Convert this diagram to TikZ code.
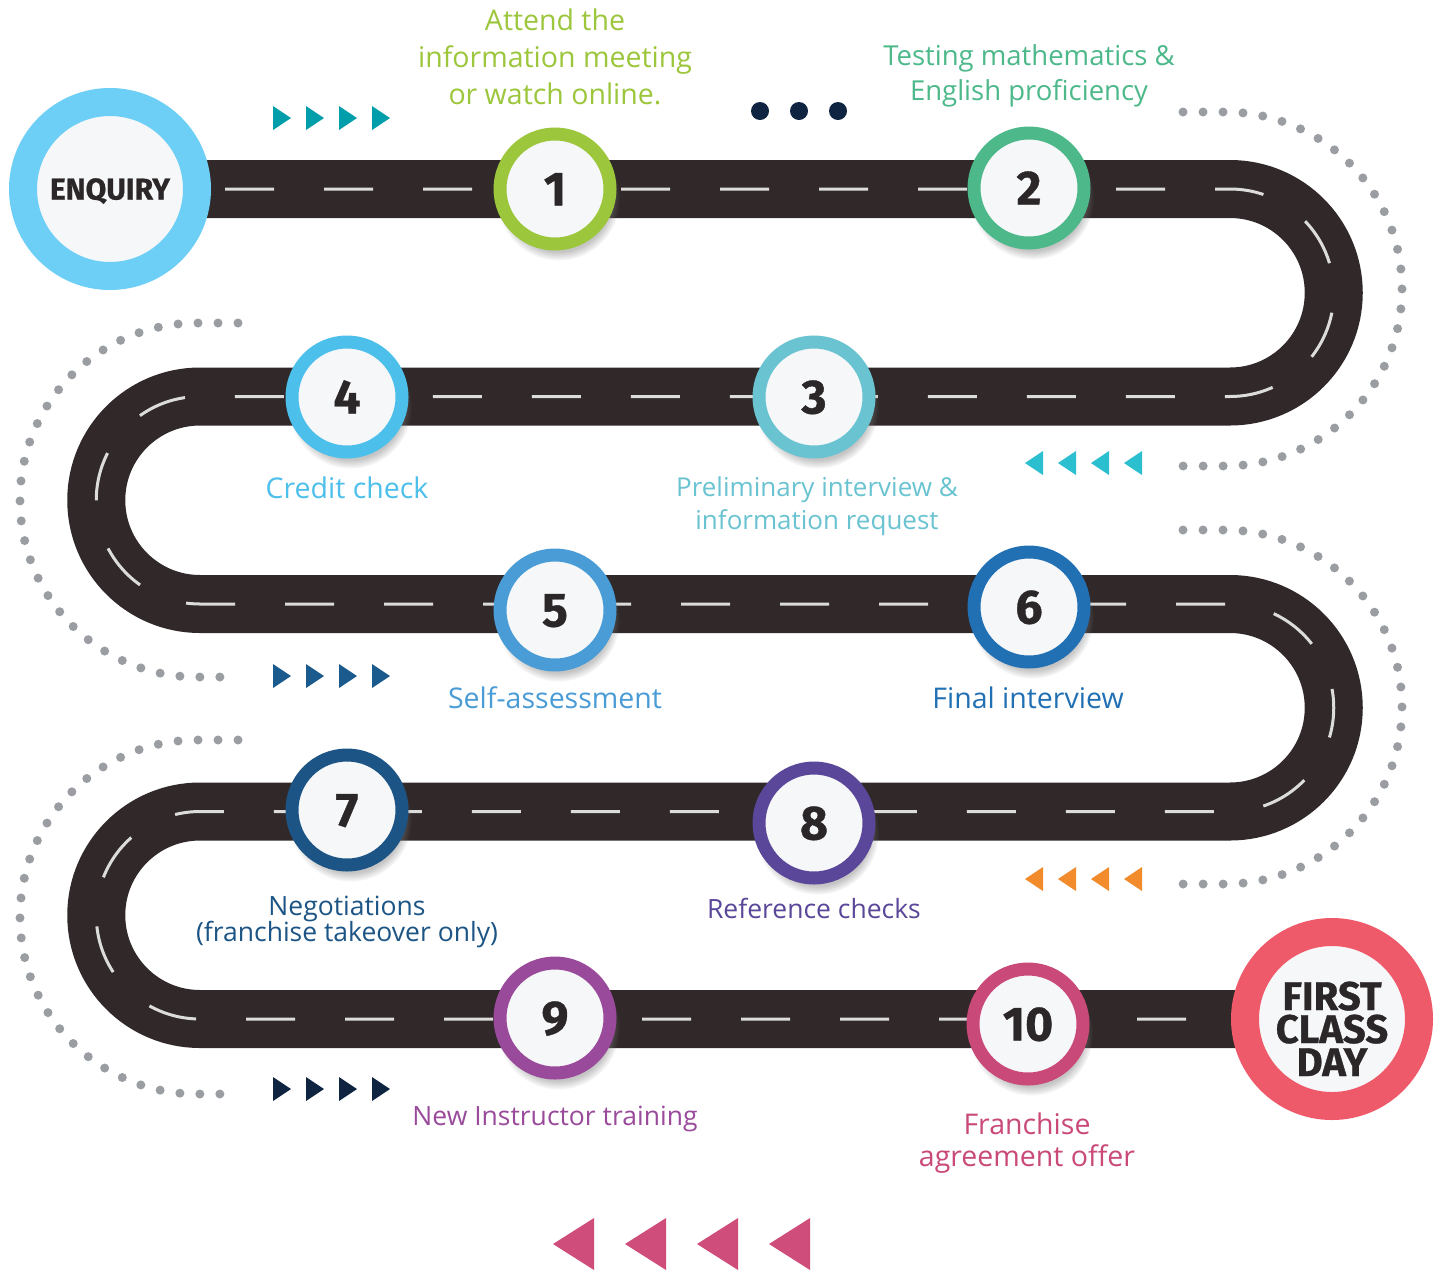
\documentclass[tikz,border=0pt]{standalone}
\usepackage{fontspec}
\setmainfont{Open Sans}
\newfontfamily\numfont[BoldFeatures={FakeBold=0.8}]{Fira Sans}
\usetikzlibrary{shadows}
\pgfdeclarelayer{bg}
\pgfsetlayers{bg,main}
\definecolor{roadc}{HTML}{302829}
\definecolor{dashc}{HTML}{DDDCDC}
\definecolor{dotc}{HTML}{9A9DA2}
\definecolor{innerc}{HTML}{F6F7F9}
\definecolor{numc}{HTML}{2B2627}
\definecolor{cEnq}{HTML}{6DCFF6}
\definecolor{cOne}{HTML}{9CC63B}
\definecolor{cTwo}{HTML}{4DB98A}
\definecolor{cThree}{HTML}{6AC3D1}
\definecolor{cFour}{HTML}{4DBFEB}
\definecolor{cFive}{HTML}{4A9CD6}
\definecolor{cSix}{HTML}{2270B4}
\definecolor{cSeven}{HTML}{1C5585}
\definecolor{cEight}{HTML}{5A4799}
\definecolor{cNine}{HTML}{9A4A9B}
\definecolor{cTen}{HTML}{C94978}
\definecolor{cFCD}{HTML}{EF5A6B}
\definecolor{tOne}{HTML}{009DAA}
\definecolor{tTwo}{HTML}{2CBFD0}
\definecolor{tThree}{HTML}{1B5A8C}
\definecolor{tFour}{HTML}{F28B2C}
\definecolor{tFive}{HTML}{0E2441}
\definecolor{tSix}{HTML}{CF4D7B}
\newcommand{\labstack}[1]{\begin{tabular}[t]{@{}c@{}}#1\end{tabular}}
\tikzset{
  stepnode/.style={circle, minimum size=110pt, inner sep=0pt, line width=13pt,
    fill=innerc, draw=#1, text=numc, text height=33pt, text depth=0pt,
    font=\numfont\bfseries\fontsize{48}{48}\selectfont,
    circular drop shadow={shadow xshift=3pt, shadow yshift=-9pt, shadow scale=1.12, opacity=0.45}},
  endnode/.style={circle, minimum size=174pt, inner sep=0pt, line width=28pt,
    fill=innerc, draw=#1, text=numc, align=center},
  lab/.style={anchor=base, inner sep=0pt, text=#1},
  roadline/.style={draw=roadc, line width=58pt, line cap=butt, line join=round},
  lanes/.style={draw=dashc, line width=3pt, dash pattern=on 49pt off 50pt, dash phase=83pt},
  dotline/.style={draw=dotc, line width=9pt, line cap=round, dash pattern=on 0pt off 20pt},
}
\begin{document}
\begin{tikzpicture}[x=1pt,y=-1pt]
\useasboundingbox (0,0) rectangle (1440,1270);
\begin{pgfonlayer}{bg}
\fill[white] (0,0) rectangle (1440,1270);
\end{pgfonlayer}

% end circles
\node[endnode=cEnq, text height=21pt, text depth=0pt, font=\numfont\bfseries\fontsize{30}{30}\selectfont] (enq) at (110,189) {ENQUIRY};
\node[endnode=cFCD, font=\numfont\bfseries\fontsize{40}{33}\selectfont] (fcd) at (1332,1019) {\rule{0pt}{48pt}FIRST\\CLASS\\DAY};

% step circles
\node[stepnode=cOne] (s1) at (555,189) {1};
\node[stepnode=cTwo] (s2) at (1029,188) {2};
\node[stepnode=cThree] (s3) at (814,397) {3};
\node[stepnode=cFour] (s4) at (347,397) {4};
\node[stepnode=cFive] (s5) at (555,610) {5};
\node[stepnode=cSix] (s6) at (1029,607) {6};
\node[stepnode=cSeven] (s7) at (347,810) {7};
\node[stepnode=cEight] (s8) at (814,823) {8};
\node[stepnode=cNine] (s9) at (555,1018) {9};
\node[stepnode=cTen] (s10) at (1028,1024) {10};

% road
\begin{pgfonlayer}{bg}
\draw[roadline, postaction={lanes}] (enq.center) -- (1230,189)
  arc[start angle=-90, end angle=90, radius=103.75] -- (200,396.5)
  arc[start angle=-90, end angle=-270, radius=103.75] -- (1230,604)
  arc[start angle=-90, end angle=90, radius=103.75] -- (200,811.5)
  arc[start angle=-90, end angle=-270, radius=103.75] -- (fcd.center);
\end{pgfonlayer}

% dotted curves
\draw[dotline] (1183,112) -- (1225,112) arc[start angle=-90, end angle=90, radius=177] -- (1183,466);
\draw[dotline] (238,323) -- (197,323) arc[start angle=-90, end angle=-270, radius=177] -- (238,677);
\draw[dotline] (1183,530) -- (1225,530) arc[start angle=-90, end angle=90, radius=177] -- (1183,884);
\draw[dotline] (238,740) -- (197,740) arc[start angle=-90, end angle=-270, radius=177] -- (238,1094);

% triangles
\foreach \dx in {0,33,66,99} {
  \fill[tOne] (273+\dx,106) -- (291+\dx,118) -- (273+\dx,130) -- cycle;
  \fill[tTwo] (1142+\dx-99,451) -- (1124+\dx-99,463) -- (1142+\dx-99,475) -- cycle;
  \fill[tThree] (273+\dx,664) -- (291+\dx,676) -- (273+\dx,688) -- cycle;
  \fill[tFour] (1142+\dx-99,867) -- (1124+\dx-99,879) -- (1142+\dx-99,891) -- cycle;
  \fill[tFive] (273+\dx,1077) -- (291+\dx,1089) -- (273+\dx,1101) -- cycle;
}
\foreach \dx in {0,72,144,216} {
  \fill[tSix] (594+\dx,1218) -- (553+\dx,1244) -- (594+\dx,1270) -- cycle;
}
\foreach \xx in {760,799,838} {
  \fill[tFive] (\xx,111) circle[radius=9];
}

% labels
\node[lab=cOne, font=\fontsize{28.5}{37}\selectfont] (l1) at (555,30) {\labstack{Attend the\\information meeting\\or watch online.}};
\node[lab=cTwo, font=\fontsize{27.5}{35}\selectfont] (l2) at (1029,65) {\labstack{Testing mathematics \&\\English proficiency}};
\node[lab=cThree, font=\fontsize{26}{33}\selectfont] (l3) at (817,496) {\labstack{Preliminary interview \&\\information request}};
\node[lab=cFour, font=\fontsize{28.5}{30}\selectfont] (l4) at (347,498) {Credit check};
\node[lab=cFive, font=\fontsize{28.5}{30}\selectfont] (l5) at (555,708) {Self-assessment};
\node[lab=cSix, font=\fontsize{28.5}{30}\selectfont] (l6) at (1028,708) {Final interview};
\node[lab=cSeven, font=\fontsize{26.5}{22}\selectfont] (l7) at (347,915) {\labstack{Negotiations\\(franchise takeover only)}};
\node[lab=cEight, font=\fontsize{26.5}{30}\selectfont] (l8) at (814,918) {Reference checks};
\node[lab=cNine, font=\fontsize{26.5}{30}\selectfont] (l9) at (555,1125) {New Instructor training};
\node[lab=cTen, font=\fontsize{28.5}{32}\selectfont] (l10) at (1027,1134) {\labstack{Franchise\\agreement offer}};
\end{tikzpicture}
\end{document}
